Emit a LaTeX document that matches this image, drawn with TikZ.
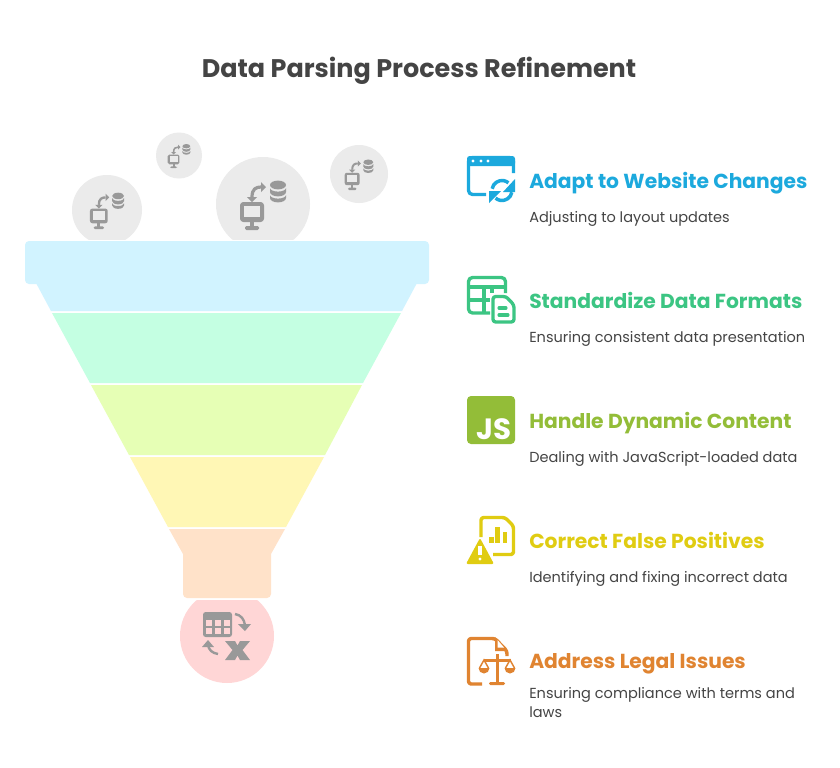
\documentclass[tikz,border=0pt]{standalone}
\usepackage{fontspec}
\setmainfont{Poppins}
\definecolor{txt}{HTML}{444444}
\definecolor{cblue}{HTML}{1CA9DD}
\definecolor{cgreen}{HTML}{3CC583}
\definecolor{clime}{HTML}{93BD38}
\definecolor{cyel}{HTML}{E0CC12}
\definecolor{corg}{HTML}{E08431}
\definecolor{icog}{HTML}{999999}
\definecolor{bub}{HTML}{EBEBEB}
\definecolor{bandA}{HTML}{D1F3FF}
\definecolor{bandB}{HTML}{C4FFE2}
\definecolor{bandC}{HTML}{E6FFB5}
\definecolor{bandD}{HTML}{FFF7B5}
\definecolor{bandE}{HTML}{FFE2C9}
\definecolor{bandF}{HTML}{FFD6D6}
\tikzset{
  x=0.75pt,y=-0.75pt,
  head/.style={anchor=base west,inner sep=0,font=\fontsize{15.2pt}{17pt}\selectfont\bfseries},
  sub/.style={anchor=base west,inner sep=0,text=txt,font=\fontsize{10.9pt}{14.2pt}\selectfont},
  titletxt/.style={inner sep=0,text=txt,font=\fontsize{19.1pt}{22pt}\selectfont\bfseries},
  pics/dbicon/.style={code={
    \fill[icog,rounded corners=2.5pt*#1] (-23,-2) rectangle (1,18);
    \fill[bub] (-19,2) rectangle (-3,13);
    \fill[icog] (-13,18) rectangle (-9,24);
    \fill[icog,rounded corners=1pt] (-18,22) rectangle (-4,26);
    \fill[icog] (15,-19) ellipse (8 and 4.4);
    \fill[icog] (7,-16) -- (7,-12) arc[start angle=180,end angle=0,x radius=8,y radius=4.4] -- (23,-16) arc[start angle=0,end angle=180,x radius=8,y radius=3.6] -- cycle;
    \fill[icog] (7,-9) -- (7,-6) arc[start angle=180,end angle=0,x radius=8,y radius=4.4] -- (23,-9) arc[start angle=0,end angle=180,x radius=8,y radius=3.6] -- cycle;
    \draw[icog,line width=2.4pt*#1] (-11,-7) .. controls (-11,-15) and (-7,-17) .. (-2,-17);
    \fill[icog] (-2,-22) -- (3,-17) -- (-2,-12) -- cycle;
    \fill[icog] (-16,-7) -- (-6,-7) -- (-11,-2) -- cycle;
  }}
}
\begin{document}
\begin{tikzpicture}
\useasboundingbox (0,0) rectangle (840,768);
\fill[white] (0,0) rectangle (840,768);
% title
\node[titletxt] (title) at (419,71) {Data Parsing Process Refinement};
% bubbles
\begin{scope}
\clip (0,0) rectangle (840,239);
\fill[bub] (107,210) circle (35);
\fill[bub] (263,204) circle (47);
\end{scope}
\fill[bub] (179,155.5) circle (23);
\fill[bub] (359,174) circle (29);
\pic[scale=.74] at (107,210) {dbicon=.74};
\pic at (263,204) {dbicon=1};
\pic[scale=.49] at (179,155.5) {dbicon=.49};
\pic[scale=.62] at (359,174) {dbicon=.62};
% bottom circle
\begin{scope}
\clip (0,600) rectangle (840,768);
\fill[bandF] (227,636) circle (47);
\end{scope}
% funnel
\fill[bandA] (36,283) -- (417,283) -- (402,311) -- (51,311) -- cycle;
\fill[bandA,rounded corners=3pt] (25,241) rectangle (429,284);
\fill[bandB] (52,313) -- (401,313) -- (363,383) -- (90,383) -- cycle;
\fill[bandC] (91,385) -- (362,385) -- (325,455) -- (129,455) -- cycle;
\fill[bandD] (130,457) -- (324,457) -- (286,527) -- (168,527) -- cycle;
\fill[bandE] (169,529) -- (285,529) -- (271,554) -- (271,594) arc[start angle=0,end angle=90,radius=4] -- (187,598) arc[start angle=90,end angle=180,radius=4] -- (183,554) -- cycle;
% bottom icon
\fill[icog,rounded corners=2pt] (203,612) rectangle (232,637);
\foreach \x/\y in {206/620,215/620,224/620,206/628,215/628,224/628}
  \fill[bandF] (\x,\y) rectangle ++(6,5.5);
\draw[icog,line width=1.8pt] (235,614) .. controls (241,615) and (244,619) .. (245,625);
\fill[icog] (238,624) -- (251,624) -- (245,631) -- cycle;
\draw[icog,line width=1.8pt] (218,654) .. controls (212,653) and (209,650) .. (208,645);
\fill[icog] (202,647) -- (214,647) -- (208,640) -- cycle;
\fill[icog] (225,641) -- (235,641) -- (237.5,645.5) -- (240,641) -- (250,641) -- (242.5,650) -- (250,660) -- (240,660) -- (237.5,655.5) -- (235,660) -- (225,660) -- (232.5,650) -- cycle;
% icon 1
\begin{scope}[cblue]
\draw[line width=2.5pt,line join=round,rounded corners=3pt] (486,194.5) -- (468.5,194.5) -- (468.5,157.5) -- (513.5,157.5) -- (513.5,173);
\fill[rounded corners=2pt] (467,156) rectangle (515,166);
\fill[white] (473,161) circle (1.7) (481,161) circle (1.7) (488,161) circle (1.7);
\draw[line width=2.6pt] (502,190.5) ++(-170:10) arc[start angle=-170,end angle=-50,radius=10];
\fill (515,179) -- (515,192) -- (503,192) -- cycle;
\draw[line width=2.6pt] (502,190.5) ++(10:10) arc[start angle=10,end angle=130,radius=10];
\fill (489,203) -- (489,191) -- (501,191) -- cycle;
\end{scope}
% icon 2
\begin{scope}[cgreen,line width=2.5pt,line join=round]
\draw[rounded corners=3pt] (490,313) -- (468.5,313) -- (468.5,277.5) -- (505.5,277.5) -- (505.5,293);
\draw (468.5,287) -- (505.5,287);
\draw (468.5,300) -- (490,300);
\draw (484,287) -- (484,313);
\draw (492,287) -- (492,293);
\draw[rounded corners=2pt] (493,296.5) -- (506,296.5) -- (514,305) -- (514,322) -- (493,322) -- cycle;
\draw[line cap=round,line width=2.3pt] (499,308) -- (506,308);
\draw[line cap=round,line width=2.3pt] (499,315) -- (508,315);
\end{scope}
% icon 3
\fill[clime,rounded corners=3pt] (467,396) rectangle (515,444);
\node[inner sep=0,text=white,anchor=base east,font=\fontsize{22pt}{22pt}\selectfont\bfseries] (js) at (512,439) {JS};
% icon 4
\begin{scope}[cyel]
\draw[line width=2.6pt,line join=round,rounded corners=2pt] (481,537) -- (481,517.5) -- (505,517.5) -- (513.5,526) -- (513.5,554.5) -- (493,554.5);
\fill (489,537) rectangle (494,543);
\fill (495,527) rectangle (500,543);
\fill (503,532) rectangle (507,543);
\fill[rounded corners=1.5pt] (480,538) -- (494,564) -- (466,564) -- cycle;
\fill[white] (478.4,546) rectangle (481.6,555);
\fill[white] (480,559) circle (1.7);
\end{scope}
% icon 5
\begin{scope}[corg]
\draw[line width=2.6pt,line join=round,rounded corners=2pt] (482,684) -- (468.5,684) -- (468.5,638.5) -- (495,638.5) -- (507,651) -- (507,656);
\fill (495,637) -- (508,651) -- (495,651) -- cycle;
\fill[white] (497.5,640) -- (504,647.5) -- (497.5,647.5) -- cycle;
\fill[white] (478,657) rectangle (516,681);
\fill[white] (484,681) rectangle (510,688);
\fill (484,658.5) rectangle (511,661.5);
\fill (496,654) rectangle (499,683);
\fill[rounded corners=1pt] (489,682) rectangle (505,685);
\draw[line width=1.1pt] (479.5,668) -- (484,660) -- (488.5,668);
\draw[line width=1.1pt] (505.5,668) -- (510,660) -- (514.5,668);
\fill (478.5,668) arc[start angle=180,end angle=0,radius=5.5] -- cycle;
\fill (504.5,668) arc[start angle=180,end angle=0,radius=5.5] -- cycle;
\end{scope}
% labels
\node[head,text=cblue] (h1) at (529,188) {Adapt to Website Changes};
\node[sub] (s1) at (529,222) {Adjusting to layout updates};
\node[head,text=cgreen] (h2) at (529,308) {Standardize Data Formats};
\node[sub] (s2) at (529,342) {Ensuring consistent data presentation};
\node[head,text=clime] (h3) at (529,428) {Handle Dynamic Content};
\node[sub] (s3) at (529,462) {Dealing with JavaScript-loaded data};
\node[head,text=cyel] (h4) at (529,548) {Correct False Positives};
\node[sub] (s4) at (529,582) {Identifying and fixing incorrect data};
\node[head,text=corg] (h5) at (529,668) {Address Legal Issues};
\node[sub] (s5) at (529,698) {Ensuring compliance with terms and};
\node[sub] (s5b) at (529,717) {laws};
\end{tikzpicture}
\end{document}
